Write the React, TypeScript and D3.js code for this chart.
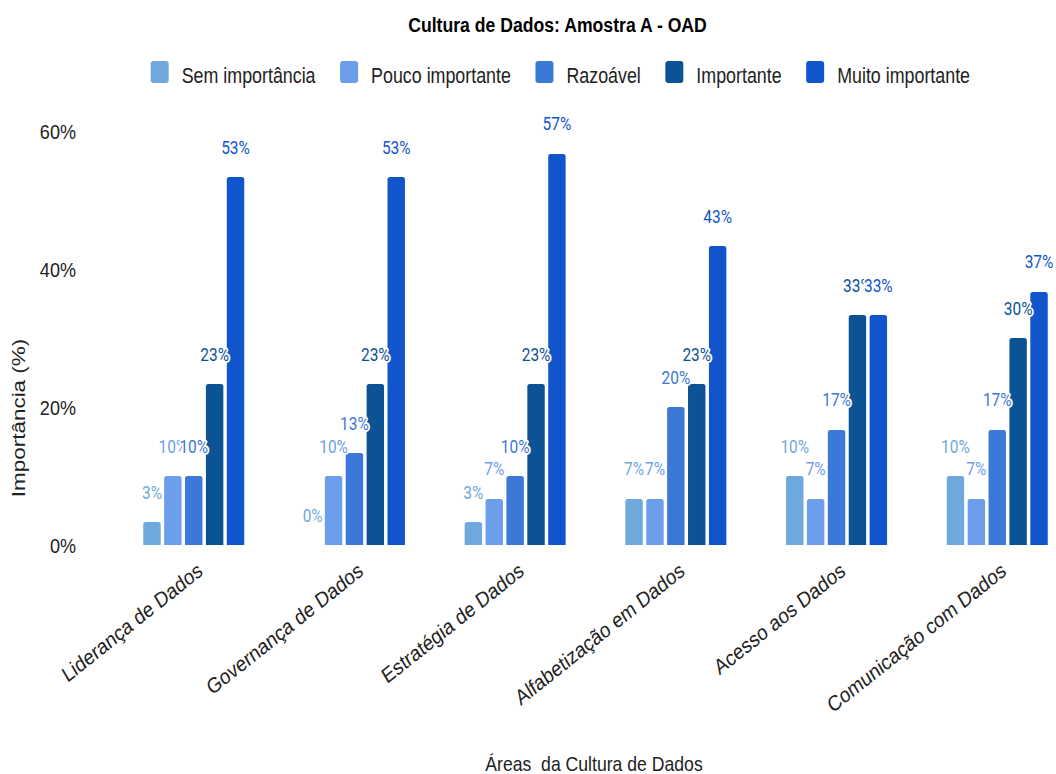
import React from "react";
import * as d3 from "d3";

const categories = [
  "Liderança de Dados",
  "Governança de Dados",
  "Estratégia de Dados",
  "Alfabetização em Dados",
  "Acesso aos Dados",
  "Comunicação com Dados",
];
const seriesNames = ["Sem importância", "Pouco importante", "Razoável", "Importante", "Muito importante"];
const seriesColors = ["#6fa8dc", "#6d9eeb", "#3c78d8", "#0b5394", "#1155cc"];
const semImportancia = [3.33, 0, 3.33, 6.67, 10, 10];
const poucoImportante = [10, 10, 6.67, 6.67, 6.67, 6.67];
const razoavel = [10, 13.33, 10, 20, 16.67, 16.67];
const importante = [23.33, 23.33, 23.33, 23.33, 33.33, 30];
const muitoImportante = [53.33, 53.33, 56.67, 43.33, 33.33, 36.67];
const seriesValues = [semImportancia, poucoImportante, razoavel, importante, muitoImportante];
const yTicks = [0, 20, 40, 60];

const title = "Cultura de Dados: Amostra A - OAD";
const xTitle = "Áreas  da Cultura de Dados";
const yTitle = "Importância (%)";

const W = 1056;
const H = 774;
const SX = 0.86;
const ARIAL = "'Liberation Sans', Arial, sans-serif";
const ROBOTO = "Roboto, 'Liberation Sans', sans-serif";

function measure(text: string, font: string): number {
  const c = document.createElement("canvas").getContext("2d");
  if (!c) return text.length * 10;
  c.font = font;
  return c.measureText(text).width;
}

function barPath(x: number, y: number, w: number, h: number, r: number): string {
  if (h <= 0) return "";
  const rr = Math.min(r, h, w / 2);
  return `M${x},${y + h}V${y + rr}Q${x},${y} ${x + rr},${y}H${x + w - rr}Q${x + w},${y} ${x + w},${y + rr}V${y + h}Z`;
}

export default function App() {
  const x0 = d3
    .scaleBand<string>()
    .domain(categories)
    .range([113.4, 113.4 + 6 * 160.7])
    .paddingInner(0.3715)
    .paddingOuter(0.3715 / 2);
  const x1 = d3
    .scaleBand<string>()
    .domain(seriesNames)
    .range([0, x0.bandwidth()])
    .paddingInner(0.165)
    .paddingOuter(0);
  const y = d3.scaleLinear().domain([0, 60]).range([545, 131]);

  // legend layout
  const legendFs = 21.5;
  const legendSX = 0.83;
  const legendFont = `${legendFs}px ${ARIAL}`;
  let lx = 150.7;
  const legendItems = seriesNames.map((name, i) => {
    const tw = measure(name, legendFont) * legendSX;
    const item = { name, color: seriesColors[i], sx: lx, tx: lx + 31 };
    lx = lx + 31 + tw + 24.5;
    return item;
  });

  const labels: { x: number; y: number; text: string; color: string; key: string }[] = [];
  categories.forEach((c, ci) => {
    seriesNames.forEach((s, si) => {
      const v = seriesValues[si][ci];
      labels.push({
        x: (x0(c) as number) + (x1(s) as number) + x1.bandwidth() / 2,
        y: y(v) - 23.5,
        text: `${Math.round(v)}%`,
        color: seriesColors[si],
        key: `${ci}-${si}`,
      });
    });
  });

  return (
    <svg
      width={W}
      height={H}
      style={{ position: "absolute", left: 0, top: 0, background: "#fff" }}
    >
      <rect x={0} y={0} width={W} height={H} fill="#fff" />
      {/* title */}
      <text
        transform={`translate(557.5,31.5) scale(${SX},1)`}
        textAnchor="middle"
        fontFamily={ARIAL}
        fontWeight="bold"
        fontSize={20.5}
        fill="#000"
      >
        {title}
      </text>

      {/* legend */}
      {legendItems.map((it) => (
        <g key={it.name}>
          <rect x={it.sx} y={61} width={18} height={22} rx={3} fill={it.color} />
          <text
            transform={`translate(${it.tx},82.5) scale(${legendSX},1)`}
            fontFamily={ARIAL}
            fontSize={legendFs}
            fill="#222"
          >
            {it.name}
          </text>
        </g>
      ))}

      {/* y ticks */}
      {yTicks.map((t) => (
        <text
          key={t}
          transform={`translate(76,${y(t) + 7.6}) scale(${SX},1)`}
          textAnchor="end"
          fontFamily={ARIAL}
          fontSize={21}
          fill="#222"
        >
          {`${t}%`}
        </text>
      ))}

      {/* y title */}
      <text
        transform={`translate(25,418) scale(0.8,1) rotate(-90)`}
        textAnchor="middle"
        fontFamily={ARIAL}
        fontSize={22.5}
        fill="#222"
      >
        {yTitle}
      </text>

      {/* bars */}
      {categories.map((c, ci) => (
        <g key={c} transform={`translate(${x0(c)},0)`}>
          {seriesNames.map((s, si) => {
            const v = seriesValues[si][ci];
            const bx = x1(s) as number;
            return (
              <path
                key={s}
                d={barPath(bx, y(v), x1.bandwidth(), y(0) - y(v), 2.5)}
                fill={seriesColors[si]}
              />
            );
          })}
        </g>
      ))}

      {/* data labels */}
      {labels.map((l) => (
        <text
          key={l.key}
          transform={`translate(${l.x},${l.y}) scale(${SX},1)`}
          textAnchor="middle"
          fontFamily={ROBOTO}
          fontSize={18}
          fill={l.color}
          stroke="#fff"
          strokeWidth={4}
          strokeLinejoin="round"
          paintOrder="stroke"
        >
          {l.text}
        </text>
      ))}

      {/* x category labels */}
      {categories.map((c) => (
        <text
          key={c}
          transform={`translate(${(x0(c) as number) + x0.bandwidth() / 2 + 10},574) scale(${SX},1) rotate(-34.5)`}
          textAnchor="end"
          fontFamily={ARIAL}
          fontSize={21.5}
          fill="#222"
        >
          {c}
        </text>
      ))}

      {/* x title */}
      <text
        transform={`translate(594,771) scale(${SX},1)`}
        textAnchor="middle"
        fontFamily={ARIAL}
        fontSize={20.5}
        fill="#222"
        style={{ whiteSpace: "pre" }}
      >
        {xTitle}
      </text>
    </svg>
  );
}
